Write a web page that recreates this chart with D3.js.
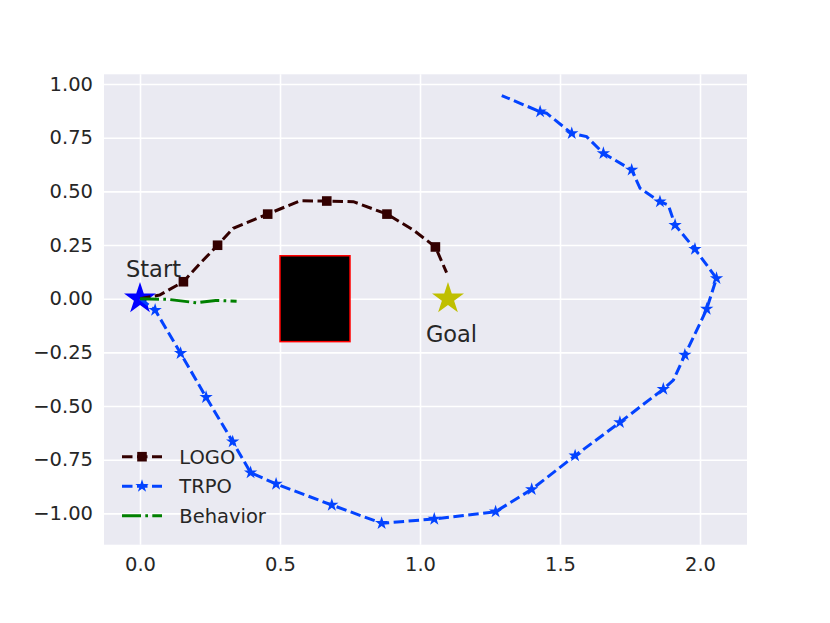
<!DOCTYPE html>
<html>
<head>
<meta charset="utf-8">
<script src="https://cdn.jsdelivr.net/npm/d3@7"></script>
<style>
  body { margin: 0; background: #fff; }
  svg { display: block; font-family: "DejaVu Sans", sans-serif; }
</style>
</head>
<body>
<svg width="830" height="623"></svg>
<script>
// data
var logoX = [0, 0.07, 0.155, 0.215, 0.277, 0.333, 0.456, 0.571, 0.667, 0.762, 0.882, 0.976, 1.055, 1.095];
var logoY = [0, 0.017, 0.079, 0.165, 0.249, 0.328, 0.394, 0.456, 0.455, 0.452, 0.394, 0.32, 0.241, 0.121];
var logoMark = [0, 0, 1, 0, 1, 0, 1, 0, 1, 0, 1, 0, 1, 0];

var trpoX = [0, 0.054, 0.145, 0.236, 0.331, 0.395, 0.486, 0.685, 0.863, 1.051, 1.270, 1.399, 1.554, 1.714, 1.869, 1.905,
             1.946, 2.0, 2.024, 2.059, 1.982, 1.911, 1.887, 1.857, 1.786, 1.756, 1.655, 1.595, 1.542, 1.452, 1.429, 1.292];
var trpoY = [0, -0.053, -0.254, -0.459, -0.666, -0.810, -0.863, -0.961, -1.046, -1.026, -0.992, -0.888, -0.731, -0.576, -0.421, -0.379,
             -0.262, -0.115, -0.048, 0.095, 0.231, 0.343, 0.436, 0.452, 0.514, 0.6, 0.677, 0.755, 0.770, 0.864, 0.871, 0.946];
var trpoMark = [0, 1, 1, 1, 1, 1, 1, 1, 1, 1, 1, 1, 1, 1, 1, 0,
                1, 0, 1, 1, 1, 1, 0, 1, 0, 1, 1, 0, 1, 0, 1, 0];

var behX = [0, 0.1, 0.2025, 0.27, 0.345];
var behY = [0, -0.003, -0.019, -0.008, -0.012];

var obstacle = {x0: 0.5, x1: 0.75, y0: -0.2, y1: 0.2};
var startPt = [0, 0], goalPt = [1.1, 0];

var xTicks = [0, 0.5, 1.0, 1.5, 2.0];
var yTicks = [-1, -0.75, -0.5, -0.25, 0, 0.25, 0.5, 0.75, 1.0];

var series = [
  {name: "LOGO", xs: logoX, ys: logoY, marks: logoMark, color: "#330000", dash: "10.5,4.5", marker: "square"},
  {name: "TRPO", xs: trpoX, ys: trpoY, marks: trpoMark, color: "#0343ff", dash: "10.5,4.5", marker: "star"},
  {name: "Behavior", xs: behX, ys: behY, marks: null, color: "#008000", dash: "19,4.3,2.7,4.3", marker: null}
];

var svg = d3.select("svg");
var pLeft = 104, pRight = 747, pTop = 74.3, pBottom = 544.7;

var x = d3.scaleLinear().domain([-0.1286, 2.1679]).range([pLeft, pRight]);
var y = d3.scaleLinear().domain([-1.1458, 1.0452]).range([pBottom, pTop]);

// star path, outer radius r
function starPath(r) {
  var pts = [];
  for (var i = 0; i < 10; i++) {
    var rr = i % 2 === 0 ? r : r * 0.382;
    var a = -Math.PI / 2 + i * Math.PI / 5;
    pts.push([rr * Math.cos(a), rr * Math.sin(a)]);
  }
  return "M" + pts.map(function(p) { return p[0].toFixed(2) + "," + p[1].toFixed(2); }).join("L") + "Z";
}

svg.append("rect")
  .attr("x", pLeft).attr("y", pTop)
  .attr("width", pRight - pLeft).attr("height", pBottom - pTop)
  .attr("fill", "#eaeaf2");

// grid + tick labels
var gy = svg.append("g").attr("transform", "translate(" + pLeft + ",0)")
  .call(d3.axisLeft(y).tickValues(yTicks).tickFormat(d3.format(".2f"))
    .tickSize(-(pRight - pLeft)).tickPadding(11));
var gx = svg.append("g").attr("transform", "translate(0," + pBottom + ")")
  .call(d3.axisBottom(x).tickValues(xTicks).tickFormat(d3.format(".1f"))
    .tickSize(-(pBottom - pTop)).tickPadding(12.5));

[gx, gy].forEach(function(g) {
  g.select(".domain").remove();
  g.selectAll(".tick line").attr("stroke", "#fff").attr("stroke-width", 1.6);
  g.selectAll(".tick text").attr("fill", "#262626").style("font-size", "19.5px")
    .style("font-family", "DejaVu Sans");
});

// obstacle
svg.append("rect")
  .attr("x", x(obstacle.x0)).attr("y", y(obstacle.y1))
  .attr("width", x(obstacle.x1) - x(obstacle.x0))
  .attr("height", y(obstacle.y0) - y(obstacle.y1))
  .attr("fill", "#000").attr("stroke", "#ff0000").attr("stroke-width", 1.5);

// start and goal
svg.append("path").attr("d", starPath(16.8))
  .attr("transform", "translate(" + x(startPt[0]) + "," + y(startPt[1]) + ")")
  .attr("fill", "#0000ff");
svg.append("path").attr("d", starPath(16.8))
  .attr("transform", "translate(" + x(goalPt[0]) + "," + y(goalPt[1]) + ")")
  .attr("fill", "#bfbf00");

var line = d3.line().x(function(d) { return x(d[0]); }).y(function(d) { return y(d[1]); });

function drawMarker(g, kind, cx, cy, color) {
  if (kind === "square") {
    g.append("rect").attr("x", cx - 4.8).attr("y", cy - 4.8)
      .attr("width", 9.6).attr("height", 9.6).attr("fill", color);
  } else if (kind === "star") {
    g.append("path").attr("d", starPath(7))
      .attr("transform", "translate(" + cx + "," + cy + ")").attr("fill", color);
  }
}

series.forEach(function(s) {
  var pts = s.xs.map(function(v, i) { return [v, s.ys[i]]; });
  var g = svg.append("g");
  g.append("path").datum(pts)
    .attr("d", line)
    .attr("fill", "none")
    .attr("stroke", s.color)
    .attr("stroke-width", 3)
    .attr("stroke-dasharray", s.dash);
  if (s.marks) {
    pts.forEach(function(p, i) {
      if (s.marks[i]) drawMarker(g, s.marker, x(p[0]), y(p[1]), s.color);
    });
  }
});

// labels
svg.append("text").attr("x", x(-0.05)).attr("y", y(0.1))
  .attr("fill", "#262626").style("font-size", "22.5px").text("Start");
svg.append("text").attr("x", x(1.021)).attr("y", y(-0.2))
  .attr("fill", "#262626").style("font-size", "22.5px").text("Goal");

// legend
var leg = svg.append("g");
series.forEach(function(s, i) {
  var ly = 456.7 + i * 29.5;
  leg.append("line").attr("x1", 122).attr("x2", 162).attr("y1", ly).attr("y2", ly)
    .attr("stroke", s.color).attr("stroke-width", 3).attr("stroke-dasharray", s.dash);
  drawMarker(leg, s.marker, 142, ly, s.color);
  leg.append("text").attr("x", 179.3).attr("y", ly).attr("dy", "0.36em")
    .attr("fill", "#262626").style("font-size", "19.5px").text(s.name);
});
</script>
</body>
</html>
